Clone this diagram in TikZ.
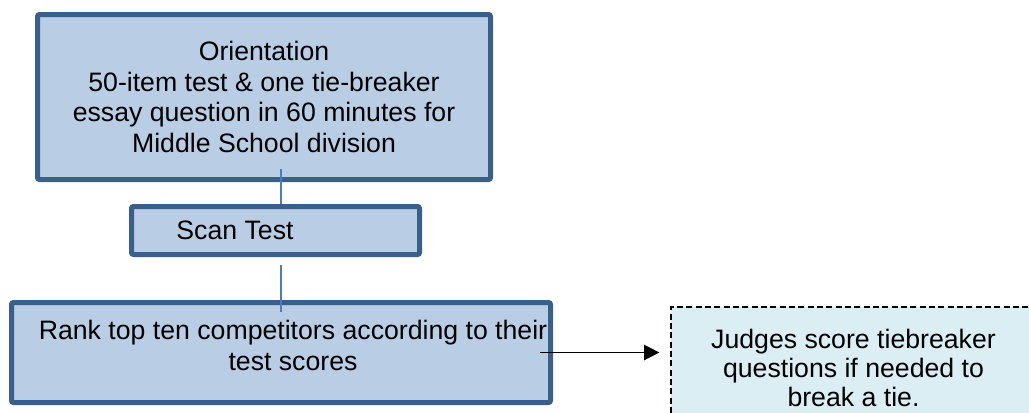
\documentclass[tikz,border=0pt]{standalone}
\usepackage{fontspec}
\setmainfont{Liberation Sans}
\usetikzlibrary{arrows.meta}
\definecolor{boxfill}{HTML}{B9CDE5}
\definecolor{boxline}{HTML}{3A5F8B}
\definecolor{linkblue}{HTML}{4A7EBB}
\definecolor{notefill}{HTML}{DBEEF4}
\tikzset{
  stage/.style={rectangle, draw=boxline, fill=boxfill, line width=3.75pt, rounded corners=1.5pt, align=center, inner sep=0pt},
  note/.style={rectangle, draw=black, fill=notefill, line width=0.9pt, dash pattern=on 4.5pt off 2.5pt, align=center, inner sep=0pt,
    font=\fontsize{20pt}{22pt}\selectfont},
  link/.style={draw=linkblue, line width=1pt},
  arrow/.style={-{Triangle[length=11.5pt,width=11.5pt]}, line width=1.1pt}
}

\begin{document}
\begin{tikzpicture}[x=0.75pt, y=-0.75pt, font=\fontsize{20pt}{23pt}\selectfont]
  \clip (0,0) rectangle (1029,412);

  % Nodes
  \node[stage, minimum width=339.75pt, minimum height=123.75pt] (orient) at (264,97)
    {Orientation\\50-item test \& one tie-breaker\\essay question in 60 minutes for\\Middle School division};
  \node[stage, minimum width=216pt, minimum height=36pt] (scan) at (275.5,230.5)
    {Scan Test\hspace*{60.75pt}};
  \node[stage, minimum width=404.25pt, minimum height=75pt] (rank) at (281,352.5)
    {\hspace*{18pt}Rank top ten competitors according to their\\\hspace*{18pt}test scores\rule[-11pt]{0pt}{0pt}};
  \node[note, minimum width=273.75pt, minimum height=91.5pt] (judges) at (853.5,368)
    {Judges score tiebreaker\\questions if needed to\\break a tie.};

  % Connectors
  \draw[link] (orient.south -| rank.north) ++(0,-13) -- (scan.north -| rank.north);
  \draw[link] (scan.south -| rank.north) ++(0,8) -- ([yshift=-9pt]rank.north);
  \path (rank.east -| judges.west) ++(-11,0) coordinate (tip);
  \draw[arrow] ([xshift=-9.75pt]rank.east) -- (tip);
\end{tikzpicture}
\end{document}
